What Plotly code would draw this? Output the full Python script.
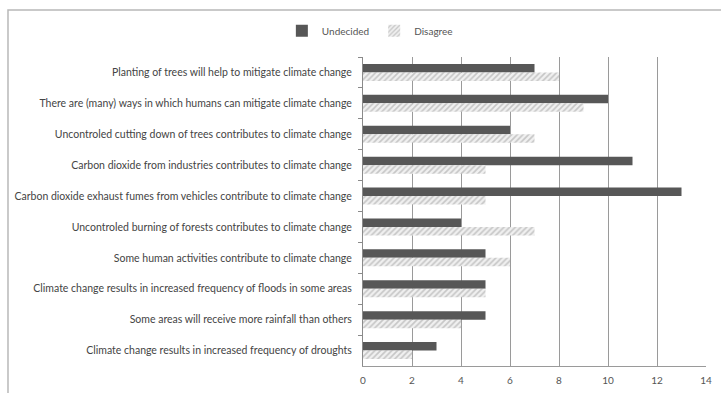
import plotly.graph_objects as go

statements = [
    "Planting of trees will help to mitigate climate change",
    "There are (many) ways in which humans can mitigate climate change",
    "Uncontroled cutting down of trees contributes to climate change",
    "Carbon dioxide from industries contributes to climate change",
    "Carbon dioxide exhaust fumes from vehicles contribute to climate change",
    "Uncontroled burning of forests contributes to climate change",
    "Some human activities contribute to climate change",
    "Climate change results in increased frequency of floods in some areas",
    "Some areas will receive more rainfall than others",
    "Climate change results in increased frequency of droughts",
]
undecided = [7, 10, 6, 11, 13, 4, 5, 5, 5, 3]
disagree = [8, 9, 7, 5, 5, 7, 6, 5, 4, 2]
x_ticks = [0, 2, 4, 6, 8, 10, 12, 14]

fig = go.Figure()
fig.add_trace(go.Bar(
    y=statements, x=undecided, orientation="h", name="Undecided",
    marker=dict(color="#575757", line=dict(width=0)),
))
fig.add_trace(go.Bar(
    y=statements, x=disagree, orientation="h", name="Disagree",
    marker=dict(color="white", line=dict(width=0),
                pattern=dict(shape="/", fgcolor="#9c9c9c", bgcolor="#f0f0f0",
                             size=4, solidity=0.4)),
))

# outer chart frame
fig.add_shape(type="rect", xref="paper", yref="paper",
              x0=-1.035, x1=1.2, y0=-0.2, y1=1.152,
              line=dict(color="#b8b8b8", width=1.5), fillcolor="rgba(0,0,0,0)")

fig.update_layout(
    width=721, height=393,
    margin=dict(l=363, r=15, t=57, b=27),
    paper_bgcolor="white", plot_bgcolor="white",
    barmode="group", bargap=0.45, bargroupgap=0,
    font=dict(family="Lato, Open Sans, sans-serif", size=10.5, color="#444"),
    showlegend=True,
    legend=dict(orientation="h", x=0.02, y=1.085, xanchor="center", yanchor="middle",
                font=dict(size=10, color="#555"), itemwidth=30,
                itemsizing="constant", tracegroupgap=0),
    xaxis=dict(range=[0, 14], tickvals=x_ticks, showgrid=True,
               gridcolor="#9a9a9a", gridwidth=1.2, zeroline=False,
               showline=True, linecolor="#9a9a9a", linewidth=1.2,
               ticks="", ticklabelstandoff=5, automargin=False,
               tickfont=dict(size=10, color="#555"), mirror=False),
    yaxis=dict(autorange="reversed", categoryorder="array", categoryarray=statements,
               showline=True, linecolor="#8a8a8a", linewidth=1.2,
               ticks="outside", ticklen=4, tickcolor="#8a8a8a", tickson="boundaries",
               ticklabelstandoff=8, showgrid=False, automargin=False,
               tickfont=dict(size=10.5, color="#444")),
)

fig.write_html("out.html")
